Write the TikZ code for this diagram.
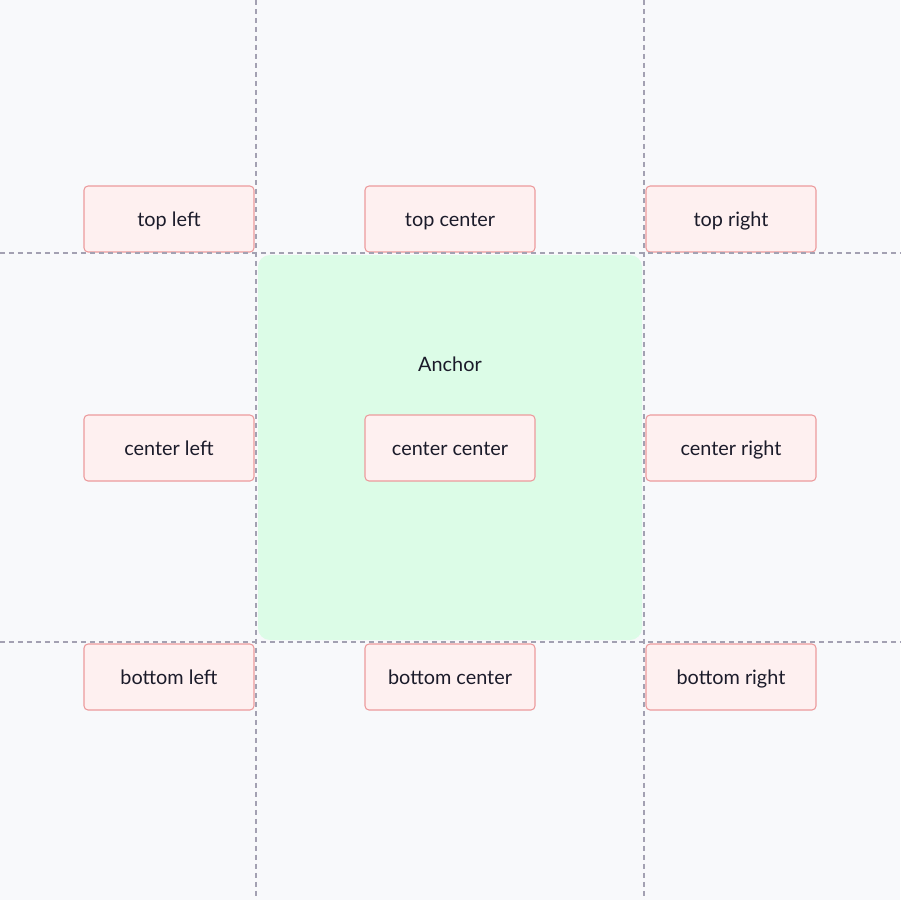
\documentclass[tikz,border=0pt]{standalone}
\usepackage{fontspec}
\setmainfont{Lato}
\definecolor{pagebg}{HTML}{F8F9FB}
\definecolor{anchorfill}{HTML}{DCFCE7}
\definecolor{boxfill}{HTML}{FEF0F0}
\definecolor{boxline}{HTML}{EC9A9C}
\definecolor{guideline}{HTML}{A3A1B2}
\definecolor{labeltext}{HTML}{1B1B2A}
\tikzset{
  placebox/.style={draw=boxline, fill=boxfill, line width=0.6pt, rounded corners=0.08cm,
    minimum width=3.4cm, minimum height=1.32cm, inner sep=0pt,
    text height=0.95em, text depth=0.1em,
    text=labeltext, font=\fontsize{11.3}{13}\selectfont},
  guide/.style={draw=guideline, line width=0.7pt, dash pattern=on 0.1cm off 0.08cm}
}
\begin{document}
\begin{tikzpicture}[x=0.02cm,y=-0.02cm]

  % Draw background
  \fill [pagebg] (0,0) rectangle (900,900);
  \useasboundingbox (0,0) rectangle (900,900);

  % Draw anchor area
  \coordinate (A0) at (258,255);
  \coordinate (A1) at (642,640);
  \fill [anchorfill, rounded corners=0.24cm] (A0) rectangle (A1);
  \node [text=labeltext, font=\fontsize{11.3}{13}\selectfont] (anchor) at (450,364) {Anchor};

  % Draw top row
  \node [placebox] (topleft) at (169,219) {top left};
  \node [placebox] (topcenter) at (450,219) {top center};
  \node [placebox] (topright) at (731,219) {top right};

  % Draw center row
  \node [placebox] (centerleft) at (169,448) {center left};
  \node [placebox] (centercenter) at (450,448) {center center};
  \node [placebox] (centerright) at (731,448) {center right};

  % Draw bottom row
  \node [placebox] (bottomleft) at (169,677) {bottom left};
  \node [placebox] (bottomcenter) at (450,677) {bottom center};
  \node [placebox] (bottomright) at (731,677) {bottom right};

  % Draw guides
  \draw [guide] (256,0) -- (256,900);
  \draw [guide] (644,0) -- (644,900);
  \draw [guide] (0,253) -- (900,253);
  \draw [guide] (0,642) -- (900,642);

\end{tikzpicture}
\end{document}
